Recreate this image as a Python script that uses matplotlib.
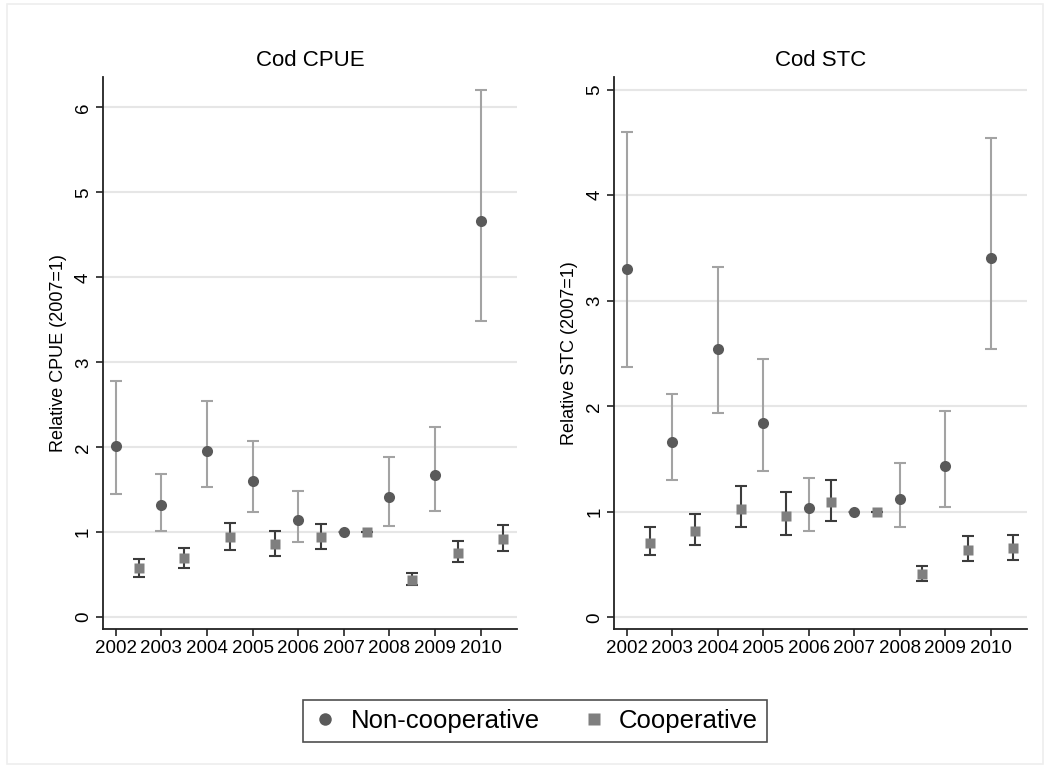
import matplotlib
matplotlib.use("Agg")
import matplotlib.pyplot as plt
import numpy as np
from matplotlib.lines import Line2D
from matplotlib.patches import Rectangle

plt.rcParams["font.family"] = ["Liberation Sans", "DejaVu Sans"]

years = ["2002", "2003", "2004", "2005", "2006", "2007", "2008", "2009", "2010"]

# Cod CPUE, relative to 2007
cpue_non = [2.01, 1.32, 1.96, 1.60, 1.14, 1.00, 1.41, 1.67, 4.66]
cpue_non_lo = [1.455, 1.02, 1.53, 1.235, 0.88, 1.00, 1.07, 1.25, 3.49]
cpue_non_hi = [2.78, 1.69, 2.54, 2.07, 1.49, 1.00, 1.88, 2.24, 6.21]
cpue_coop = [0.573, 0.694, 0.94, 0.86, 0.94, 1.00, 0.443, 0.76, 0.918]
cpue_coop_lo = [0.47, 0.584, 0.79, 0.725, 0.80, 1.00, 0.376, 0.655, 0.784]
cpue_coop_hi = [0.69, 0.816, 1.114, 1.02, 1.10, 1.00, 0.52, 0.90, 1.086]

# Cod STC, relative to 2007
stc_non = [3.30, 1.66, 2.54, 1.84, 1.04, 1.00, 1.126, 1.435, 3.40]
stc_non_lo = [2.37, 1.30, 1.94, 1.39, 0.817, 1.00, 0.86, 1.05, 2.54]
stc_non_hi = [4.60, 2.12, 3.32, 2.45, 1.325, 1.00, 1.46, 1.96, 4.54]
stc_coop = [0.707, 0.817, 1.028, 0.962, 1.09, 1.00, 0.413, 0.637, 0.653]
stc_coop_lo = [0.59, 0.688, 0.858, 0.78, 0.915, 1.00, 0.347, 0.533, 0.546]
stc_coop_hi = [0.858, 0.975, 1.246, 1.19, 1.30, 1.00, 0.483, 0.767, 0.782]

non_col = "#5a5a5a"
non_err = "#a3a3a3"
coop_col = "#7f7f7f"
coop_err = "#3c3c3c"


def panel(ax, title, ylabel, non, non_lo, non_hi, coop, coop_lo, coop_hi, yticks, ylim):
    x = np.arange(len(years))
    non = np.array(non)
    coop = np.array(coop)
    ax.set_axisbelow(True)
    for t in yticks:
        ax.axhline(t, color="#e6e6e6", lw=1.5, zorder=0)
    nerr = [non - np.array(non_lo), np.array(non_hi) - non]
    cerr = [coop - np.array(coop_lo), np.array(coop_hi) - coop]
    ax.errorbar(x, non, yerr=nerr, fmt="none", ecolor=non_err, elinewidth=1.5,
                capsize=4, capthick=1.5, zorder=2)
    ax.errorbar(x + 0.5, coop, yerr=cerr, fmt="none", ecolor=coop_err, elinewidth=1.5,
                capsize=4, capthick=1.5, zorder=2)
    ax.plot(x, non, "o", color=non_col, ms=8, mec="none", zorder=3)
    ax.plot(x + 0.5, coop, "s", color=coop_col, ms=7.5, mec="none", zorder=3)
    ax.set_xlim(-0.28, 8.8)
    ax.set_ylim(*ylim)
    ax.set_xticks(x)
    ax.set_xticklabels(years, fontsize=13.5)
    ax.set_yticks(yticks)
    ax.set_yticklabels([str(t) for t in yticks], fontsize=13.5, rotation=90, va="center")
    ax.set_ylabel(ylabel, fontsize=13, labelpad=6)
    ax.set_title(title, fontsize=16, pad=8)
    for s in ["top", "right"]:
        ax.spines[s].set_visible(False)
    for s in ["left", "bottom"]:
        ax.spines[s].set_color("#222222")
        ax.spines[s].set_linewidth(1.3)
    ax.tick_params(length=5, width=1.2, color="#222222", pad=3)


fig = plt.figure(figsize=(10.5, 7.69), dpi=100)
ax1 = fig.add_axes([0.0981, 0.182, 0.3943, 0.718])
ax2 = fig.add_axes([0.585, 0.182, 0.393, 0.718])

panel(ax1, "Cod CPUE", "Relative CPUE (2007=1)", cpue_non, cpue_non_lo, cpue_non_hi,
      cpue_coop, cpue_coop_lo, cpue_coop_hi, [0, 1, 2, 3, 4, 5, 6], (-0.14, 6.36))
panel(ax2, "Cod STC", "Relative STC (2007=1)", stc_non, stc_non_lo, stc_non_hi,
      stc_coop, stc_coop_lo, stc_coop_hi, [0, 1, 2, 3, 4, 5], (-0.11, 5.12))

handles = [
    Line2D([], [], ls="none", marker="o", color=non_col, ms=9, mec="none"),
    Line2D([], [], ls="none", marker="s", color=coop_col, ms=9, mec="none"),
]
leg = fig.legend(handles, ["Non-cooperative", "Cooperative"], loc="center",
                 bbox_to_anchor=(0.5096, 0.0624), ncol=2, fontsize=18.5,
                 frameon=True, fancybox=False, handlelength=1.0, handletextpad=0.5,
                 columnspacing=1.6, borderpad=0.35)
leg.get_frame().set_edgecolor("#222222")
leg.get_frame().set_linewidth(1.2)

# light outer frame around the whole graph region
fig.patches.append(Rectangle((0.0067, 0.0065), 0.9866, 0.988, transform=fig.transFigure,
                             fill=False, ec="#eeeeee", lw=1.2))

fig.savefig("out.png", dpi=100)
